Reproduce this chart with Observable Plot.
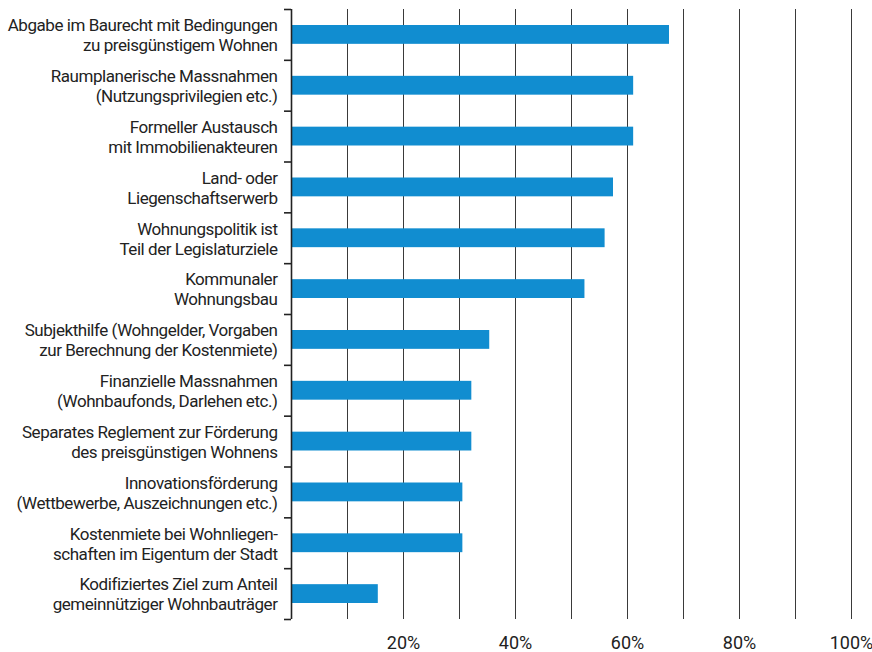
<!DOCTYPE html>
<html>
<head>
<meta charset="utf-8">
<script src="https://cdn.jsdelivr.net/npm/d3@7"></script>
<script src="https://cdn.jsdelivr.net/npm/@observablehq/plot@0.6"></script>
<style>
  html, body { margin: 0; padding: 0; background: #fff; }
  #chart svg { display: block; }
  #chart svg g[aria-label="text"] text { letter-spacing: -0.45px; }
</style>
</head>
<body>
<div id="chart"></div>
<script>
const categories = [
  "Abgabe im Baurecht mit Bedingungen\nzu preisgünstigem Wohnen",
  "Raumplanerische Massnahmen\n(Nutzungsprivilegien etc.)",
  "Formeller Austausch\nmit Immobilienakteuren",
  "Land- oder\nLiegenschaftserwerb",
  "Wohnungspolitik ist\nTeil der Legislaturziele",
  "Kommunaler\nWohnungsbau",
  "Subjekthilfe (Wohngelder, Vorgaben\nzur Berechnung der Kostenmiete)",
  "Finanzielle Massnahmen\n(Wohnbaufonds, Darlehen etc.)",
  "Separates Reglement zur Förderung\ndes preisgünstigen Wohnens",
  "Innovationsförderung\n(Wettbewerbe, Auszeichnungen etc.)",
  "Kostenmiete bei Wohnliegen-\nschaften im Eigentum der Stadt",
  "Kodifiziertes Ziel zum Anteil\ngemeinnütziger Wohnbauträger"
];
const values = [67.5, 61.1, 61.1, 57.5, 56.0, 52.4, 35.4, 32.2, 32.2, 30.6, 30.6, 15.5];
const gridTicks = [10, 20, 30, 40, 50, 60, 70, 80, 90, 100];
const labelTicks = [20, 40, 60, 80, 100];

const data = categories.map((c, i) => ({label: c, value: values[i]}));

const W = 872, H = 652, mTop = 9, mBottom = 33;
const bw = (H - mTop - mBottom) / categories.length;
const font = "Roboto, 'Liberation Sans', sans-serif";

const chart = Plot.plot({
  width: W,
  height: H,
  marginTop: mTop,
  marginBottom: mBottom,
  marginLeft: 291,
  marginRight: 21,
  style: {fontFamily: font, color: "#222", background: "#fff", overflow: "visible"},
  x: {domain: [0, 100], label: null},
  y: {domain: categories, padding: 0, round: false, label: null},
  marks: [
    Plot.ruleX(gridTicks, {stroke: "#3a3a3a", strokeWidth: 1}),
    Plot.barX(data, {x: "value", y: "label", fill: "#118dd0", insetTop: 16, insetBottom: 16}),
    Plot.ruleX([0], {stroke: "#222", strokeWidth: 1.6}),
    Plot.axisY({tickSize: 7, tickFormat: () => "", dy: -bw / 2, stroke: "#222", strokeWidth: 1.6}),
    Plot.axisY([categories[categories.length - 1]], {tickSize: 7, tickFormat: () => "", dy: bw / 2, stroke: "#222", strokeWidth: 1.6}),
    Plot.text(data, {
      x: 0, y: "label", text: "label", dx: -14, textAnchor: "end",
      lineAnchor: "middle", lineHeight: 20 / 17, fontSize: 17, fill: "#222"
    }),
    Plot.axisX(labelTicks, {
      tickSize: 0, tickPadding: 16.5, fontSize: 18, label: null,
      tickFormat: d => d + "%", fill: "#222"
    })
  ]
});
document.getElementById("chart").append(chart);
</script>
</body>
</html>
